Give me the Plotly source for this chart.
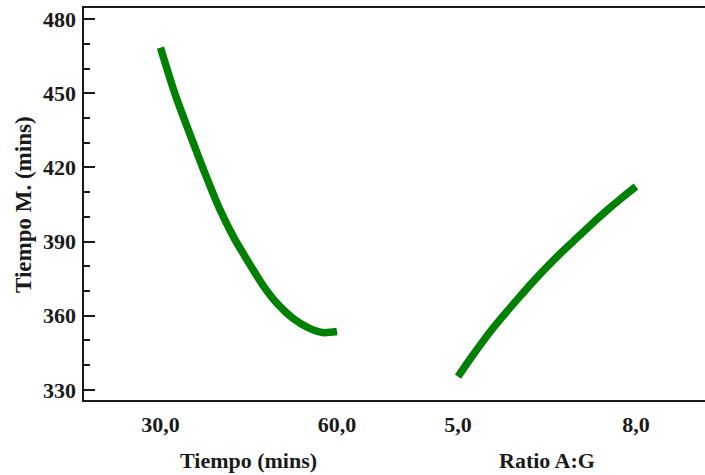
import plotly.graph_objects as go

# Main effects data
tiempo = [30, 32.5, 35, 37.5, 40, 42.5, 45, 47.5, 50, 52.5, 55, 57.5, 60]
tiempo_y = [468.5, 449.5, 433.5, 418.0, 403.5, 391.5, 381.5, 372.0, 364.5, 359.0, 355.3, 353.2, 353.6]

ratio = [5.0, 5.25, 5.5, 5.75, 6.0, 6.25, 6.5, 6.75, 7.0, 7.25, 7.5, 7.75, 8.0]
ratio_y = [335.4, 344.0, 352.2, 359.6, 366.6, 373.4, 379.8, 385.8, 391.4, 397.0, 402.4, 407.5, 412.3]

tiempo_ticks = [30, 60]
tiempo_ticktext = ["30,0", "60,0"]
ratio_ticks = [5, 8]
ratio_ticktext = ["5,0", "8,0"]

y_ticks = [330, 360, 390, 420, 450, 480]

FONT = "Liberation Serif"
GREEN = "#008000"
INK = "#1a1a1a"

fig = go.Figure()
fig.add_trace(go.Scatter(x=tiempo, y=tiempo_y, mode="lines", xaxis="x", yaxis="y",
                         line=dict(color=GREEN, width=7.5, shape="spline", smoothing=0.8),
                         showlegend=False, hoverinfo="skip"))
fig.add_trace(go.Scatter(x=ratio, y=ratio_y, mode="lines", xaxis="x2", yaxis="y",
                         line=dict(color=GREEN, width=7.5, shape="spline", smoothing=0.8),
                         showlegend=False, hoverinfo="skip"))

split = 0.5056
yr = [325.5, 484.9]
tickfont = dict(family=FONT, size=22, color=INK, weight="bold")

fig.update_layout(
    width=705, height=475,
    margin=dict(l=83, r=0, t=7, b=74),
    paper_bgcolor="white", plot_bgcolor="white",
    xaxis=dict(domain=[0, split], range=[16.83, 70.28], tickvals=tiempo_ticks,
               ticktext=tiempo_ticktext, ticks="", showgrid=False, zeroline=False,
               showline=False, tickfont=tickfont, ticklabelstandoff=8, anchor="y"),
    xaxis2=dict(domain=[split, 1], range=[3.98, 9.163], tickvals=ratio_ticks,
                ticktext=ratio_ticktext, ticks="", showgrid=False, zeroline=False,
                showline=False, tickfont=tickfont, ticklabelstandoff=8, anchor="y"),
    yaxis=dict(range=yr, tickvals=y_ticks, ticks="inside", ticklen=12, tickwidth=2,
               tickcolor=INK, showgrid=False, zeroline=False, showline=False,
               tickfont=tickfont, ticklabelstandoff=6,
               minor=dict(dtick=10, ticks="inside", ticklen=7, tickwidth=2,
                          tickcolor=INK, showgrid=False)),
    yaxis2=dict(range=yr, overlaying="y", side="right", anchor="x2", tickvals=y_ticks,
                ticks="inside", ticklen=6, tickwidth=2, tickcolor=INK,
                showticklabels=False, showgrid=False, zeroline=False, showline=False),
    shapes=[dict(type="rect", xref="paper", yref="paper", x0=0, x1=1.006, y0=0, y1=1,
                 line=dict(color=INK, width=2), fillcolor="rgba(0,0,0,0)")],
    annotations=[
        dict(text="<b>Tiempo (mins)</b>", xref="x", yref="paper", x=45, y=-0.152,
             xanchor="center", yanchor="middle", showarrow=False,
             font=dict(family=FONT, size=22, color=INK)),
        dict(text="<b>Ratio A:G</b>", xref="x2", yref="paper", x=6.5, y=-0.152,
             xanchor="center", yanchor="middle", showarrow=False,
             font=dict(family=FONT, size=22, color=INK)),
        dict(text="<b>Tiempo M. (mins)</b>", xref="paper", yref="paper", x=-0.0965, y=0.5,
             xanchor="center", yanchor="middle", textangle=-90, showarrow=False,
             font=dict(family=FONT, size=23, color=INK)),
    ],
)

fig.write_html("out.html")
